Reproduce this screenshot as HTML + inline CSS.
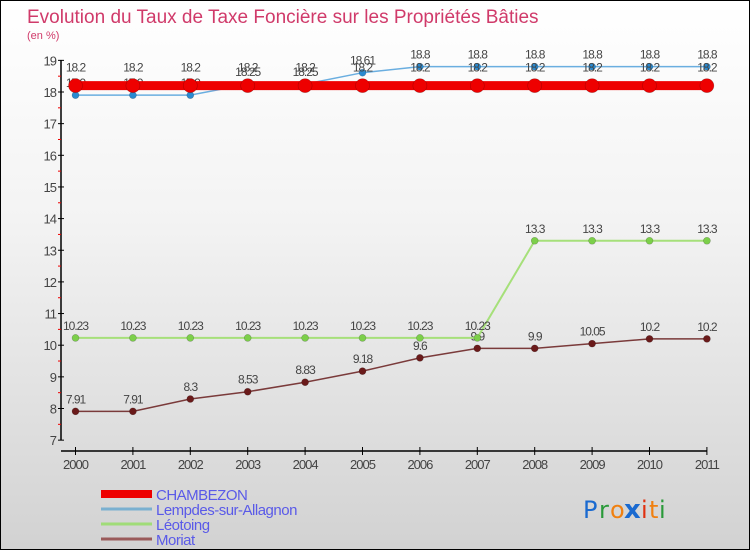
<!DOCTYPE html>
<html><head><meta charset="utf-8"><style>
body{margin:0}
#c{width:748px;height:548px;border:1px solid #000;position:relative;background:linear-gradient(#fff 0%,#f3f3f3 40%,#d2d2d2 100%);font-family:"Liberation Sans",sans-serif;overflow:hidden}
</style></head><body>
<div id="c">
<svg id="s" width="748" height="548" xmlns="http://www.w3.org/2000/svg"></svg>
</div>
<script>
const years=["2000","2001","2002","2003","2004","2005","2006","2007","2008","2009","2010","2011"];
const chambezon=[18.2,18.2,18.2,18.2,18.2,18.2,18.2,18.2,18.2,18.2,18.2,18.2];
const lempdes=[17.9,17.9,17.9,18.25,18.25,18.61,18.8,18.8,18.8,18.8,18.8,18.8];
const leotoing=[10.23,10.23,10.23,10.23,10.23,10.23,10.23,10.23,13.3,13.3,13.3,13.3];
const moriat=[7.91,7.91,8.3,8.53,8.83,9.18,9.6,9.9,9.9,10.05,10.2,10.2];
const yTicks=[7,8,9,10,11,12,13,14,15,16,17,18,19];
const NS="http://www.w3.org/2000/svg";
const s=document.getElementById('s');
function X(i){return 74.5+i*57.4;}
function Y(v){return 91+(18-v)*31.65;}
function el(t,a,txt){const e=document.createElementNS(NS,t);for(const k in a)e.setAttribute(k,a[k]);if(txt!==undefined)e.textContent=txt;s.appendChild(e);return e;}
let e;
e=el('text',{x:26,y:22,'font-size':19,fill:'#d03a6a'},'Evolution du Taux de Taxe Foncière sur les Propriétés Bâties');

e=el('text',{x:26,y:38,'font-size':11,fill:'#d03a6a'},'(en %)');

// y axis
e=el('line',{x1:60,y1:Y(19),x2:60,y2:Y(7),stroke:'#000','stroke-width':1.5});

yTicks.forEach(v=>{
  e=el('line',{x1:57,y1:Y(v),x2:63,y2:Y(v),stroke:'#000'});
  
  e=el('text',{x:55,y:Y(v)+5,'font-size':13,fill:'#444','text-anchor':'end','letter-spacing':'-1'},String(v));
  
  if(v<19){e=el('line',{x1:57,y1:Y(v+0.5),x2:60,y2:Y(v+0.5),stroke:'#e00'});
  }
});
// x axis
e=el('line',{x1:60,y1:450,x2:X(11),y2:450,stroke:'#000','stroke-width':1.5});

years.forEach((y,i)=>{
  e=el('line',{x1:X(i),y1:446,x2:X(i),y2:454,stroke:'#000'});
  
  e=el('text',{x:X(i),y:468,'font-size':13,fill:'#444','text-anchor':'middle','letter-spacing':'-1'},y);
  
});
function series(vals,color,w,r,dot,name,lab){
  e=el('polyline',{points:vals.map((v,i)=>X(i)+','+Y(v)).join(' '),fill:'none',stroke:color,'stroke-width':w});
  
  vals.forEach((v,i)=>{
    e=el('circle',{cx:X(i),cy:Y(v),r:r,fill:dot,stroke:'rgba(0,0,0,0.25)','stroke-width':0.6});
    
    e=el('text',{x:X(i),y:Y(v)-8+(lab||0),'font-size':12,fill:'#444','text-anchor':'middle','letter-spacing':'-1'},String(v));
    
  });
}
series(moriat,'#7a3a3a',1.5,3.5,'#6a1a1a','moriat');
series(leotoing,'#a6e07a',2,3.5,'#7ccf4a','leotoing');
series(lempdes,'#6aaee0',1.5,3.5,'#2a8ad0','lempdes');
series(chambezon,'#e00',9,7,'#e00','chambezon',-6);
// legend
const leg=[['CHAMBEZON','#e00',8],['Lempdes-sur-Allagnon','#7ab0d0',3],['Léotoing','#a0dc78',3],['Moriat','#9a5a5a',3]];
leg.forEach((l,i)=>{
  const yy=493+i*15;
  e=el('line',{x1:100,y1:yy,x2:151,y2:yy,stroke:l[1],'stroke-width':l[2]});
  
  e=el('text',{x:155,y:yy+6,'font-size':15,fill:'#5a5ae8','letter-spacing':'-0.5'},l[0]);
  
});
// logo
const logo=[['P','#1a6ad0'],['r','#2a9a3a'],['o','#f08010'],['x','#1a6ad0'],['i','#e03010'],['t','#f08010'],['i','#2a9a3a']];
let lx=582;
const lw=[14,9,12,15,6,8,6];
logo.forEach((c,i)=>{
  e=el('text',{x:lx,y:517,'font-size':i==3?26:24,'font-weight':i==3?'bold':'normal',fill:c[1],'font-family':'DejaVu Sans, sans-serif'},c[0]);
  
  lx+=lw[i]+2;
});
</script>
</body></html>
